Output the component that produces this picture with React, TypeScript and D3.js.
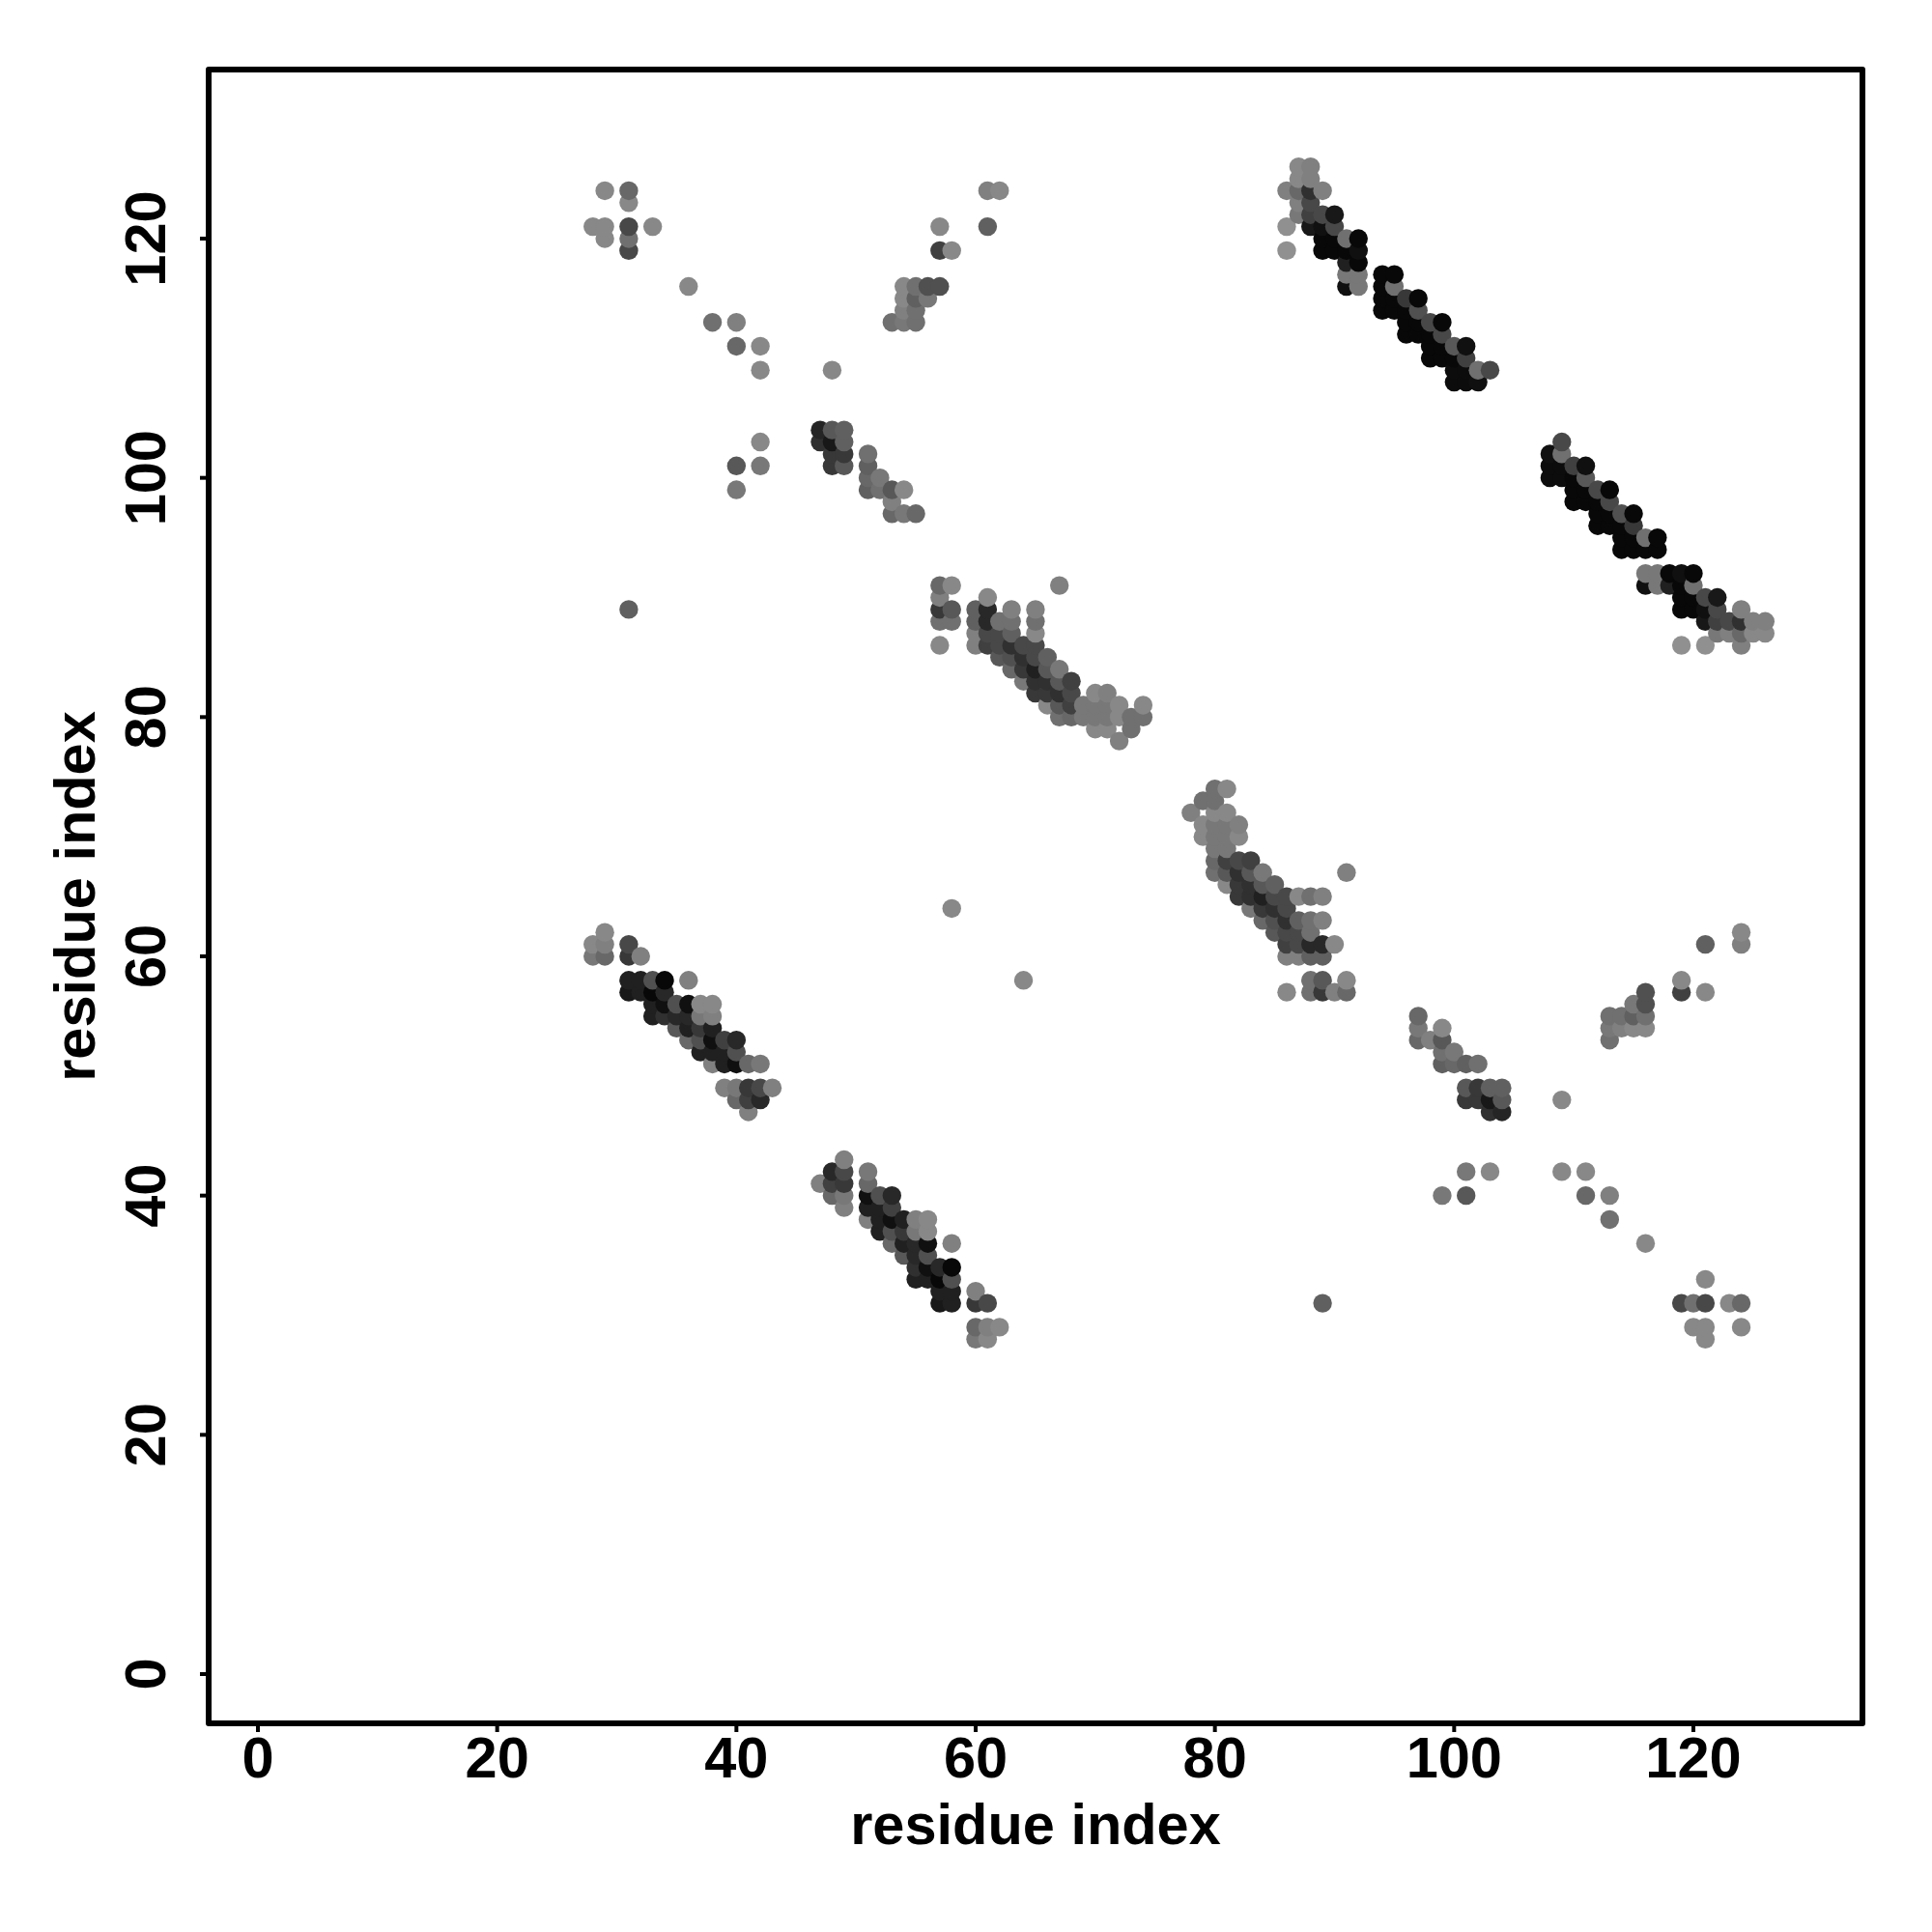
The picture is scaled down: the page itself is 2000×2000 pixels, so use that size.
import React from "react";
import * as d3 from "d3";

const xTicks = [0, 20, 40, 60, 80, 100, 120];
const yTicks = [0, 20, 40, 60, 80, 100, 120];
const xLabel = "residue index";
const yLabel = "residue index";

type C = [number, number, number];
// Upper triangle of the symmetric contact map: [residue i, residue j, grey level]
const farCorner: C[] = [
  [29,124,0x88],[31,124,0x68],[31,123,0x88],[28,121,0x88],[29,121,0x88],[31,121,0x48],[33,121,0x88],[29,120,0x88],[31,120,0x70],[31,119,0x48],
  [31,89,0x60],[58,64,0x88],
];
const crossArm: C[] = [
  [36,116,0x88],[38,113,0x70],[40,113,0x80],[40,111,0x68],[42,111,0x88],[42,109,0x88],[48,109,0x88],
  [42,103,0x88],[40,101,0x58],[42,101,0x78],[40,99,0x78],
  [53,113,0x70],[54,113,0x78],[55,113,0x70],[54,114,0x80],[55,114,0x70],[54,115,0x88],[55,115,0x60],[56,115,0x78],
  [54,116,0x88],[55,116,0x70],[56,116,0x50],[57,116,0x50],[57,119,0x40],[58,119,0x88],[57,121,0x88],[61,121,0x60],[61,124,0x80],[62,124,0x88],
];
const strand47: C[] = [
  [47,104,0x25],[47,103,0x30],[48,104,0x58],[48,103,0x18],[48,102,0x38],[48,101,0x38],[49,104,0x60],[49,103,0x60],[49,102,0x38],[49,101,0x58],
  [51,102,0x70],[51,101,0x60],[51,100,0x68],[51,99,0x60],[52,100,0x78],[52,99,0x70],[53,99,0x58],[54,99,0x88],[53,98,0x80],[53,97,0x68],[54,97,0x78],[55,97,0x68],
];
const strand57: C[] = [
  [57,91,0x68],[58,91,0x88],[57,90,0x80],[57,89,0x38],[58,89,0x58],[57,88,0x70],[58,88,0x70],[57,86,0x88],
  [60,89,0x60],[60,88,0x60],[60,87,0x80],[60,86,0x80],
  [61,90,0x88],[61,89,0x28],[61,88,0x28],[61,87,0x48],[61,86,0x40],
  [62,88,0x70],[62,87,0x48],[62,86,0x48],[62,85,0x58],
  [63,89,0x80],[63,88,0x70],[63,87,0x60],[63,86,0x30],[63,85,0x50],[63,84,0x68],
  [64,86,0x48],[64,85,0x30],[64,84,0x38],[64,83,0x78],
  [65,89,0x80],[65,88,0x70],[65,87,0x88],[65,86,0x48],[65,85,0x48],[65,84,0x20],[65,83,0x30],[65,82,0x38],
  [66,85,0x60],[66,84,0x58],[66,83,0x30],[66,82,0x38],[66,81,0x88],
  [67,91,0x80],[67,84,0x78],[67,83,0x58],[67,82,0x30],[67,81,0x58],[67,80,0x70],
  [68,83,0x40],[68,82,0x48],[68,81,0x40],[68,80,0x68],
  [69,81,0x78],[69,80,0x78],
  [70,82,0x88],[70,81,0x78],[70,80,0x78],[70,79,0x88],
  [71,82,0x80],[71,81,0x78],[71,80,0x78],[71,79,0x88],
  [72,81,0x88],[72,80,0x88],[72,78,0x80],
  [73,80,0x70],[73,79,0x70],[74,81,0x88],[74,80,0x70],
];
const strand86: C[] = [
  [86,124,0x80],[86,121,0x90],[86,119,0x90],
  [87,126,0x88],[87,125,0x88],[87,124,0x68],[87,123,0x80],[87,122,0x78],
  [88,126,0x80],[88,125,0x80],[88,124,0x30],[88,123,0x48],[88,122,0x40],[88,121,0x18],
  [89,124,0x80],[89,122,0x48],[89,121,0x10],[89,120,0x08],[89,119,0x08],
  [90,122,0x18],[90,121,0x48],[90,120,0x08],[90,119,0x08],
  [91,120,0x70],[91,119,0x08],[91,118,0x20],[91,117,0x78],[91,116,0x10],
  [92,120,0x08],[92,119,0x10],[92,118,0x08],[92,117,0x78],[92,116,0x78],
];
const strand94: C[] = [
  [94,117,0x08],[94,116,0x08],[94,115,0x08],[94,114,0x08],
  [95,117,0x08],[95,116,0x70],[95,115,0x08],[95,114,0x08],
  [96,115,0x38],[96,114,0x08],[96,113,0x08],[96,112,0x08],
  [97,115,0x08],[97,114,0x50],[97,113,0x08],[97,112,0x08],
  [98,113,0x48],[98,112,0x08],[98,111,0x08],[98,110,0x08],
  [99,113,0x08],[99,112,0x48],[99,111,0x08],[99,110,0x08],
  [100,111,0x58],[100,110,0x08],[100,109,0x0c],[100,108,0x0c],
  [101,111,0x10],[101,110,0x40],[101,109,0x0c],[101,108,0x0c],
  [102,109,0x70],[102,108,0x10],[103,109,0x48],
];
const strand28: C[] = [
  [29,62,0x88],[28,61,0x88],[29,61,0x80],[28,60,0x78],[29,60,0x68],[31,61,0x48],[31,60,0x38],[32,60,0x80],
  [31,58,0x20],[31,57,0x18],[32,58,0x20],[32,57,0x20],[33,58,0x50],[33,57,0x08],[33,56,0x20],[33,55,0x20],
  [34,58,0x08],[34,57,0x28],[34,56,0x10],[34,55,0x30],
  [35,56,0x50],[35,55,0x28],[35,54,0x58],
  [36,58,0x80],[36,56,0x10],[36,55,0x28],[36,54,0x20],[36,53,0x68],
  [37,56,0x88],[37,55,0x78],[37,54,0x38],[37,53,0x50],[37,52,0x20],
  [38,56,0x88],[38,55,0x80],[38,54,0x20],[38,53,0x10],[38,52,0x20],[38,51,0x80],
  [39,53,0x40],[39,52,0x20],[39,51,0x20],
  [40,53,0x28],[40,52,0x50],[40,51,0x10],
  [41,51,0x68],[42,51,0x78],
  [39,49,0x80],[40,49,0x78],[41,49,0x38],[42,49,0x48],[43,49,0x80],
  [40,48,0x68],[41,48,0x40],[42,48,0x28],[41,47,0x80],
];

const upper: C[] = [...farCorner, ...crossArm, ...strand47, ...strand57, ...strand86, ...strand94, ...strand28];
// The map is symmetric; points are painted column by column, bottom to top.
const contacts: C[] = [...upper, ...upper.map(([i, j, g]) => [j, i, g] as C)].sort(
  (a, b) => a[0] - b[0] || a[1] - b[1]
);

const W = 2000, H = 2000;
const box = { left: 216, right: 1928, top: 72, bottom: 1784 };
const FS = 59.5;
const LABEL_FS = 59.5;
const TICK = 9;
const font = "'Liberation Sans', Arial, sans-serif";

export default function App() {
  const x = d3.scaleLinear().domain([0, 120]).range([267, 1753]);
  const y = d3.scaleLinear().domain([0, 120]).range([1733, 247]);
  return (
    <svg width={W} height={H} viewBox={`0 0 ${W} ${H}`} style={{ position: "absolute", left: 0, top: 0, background: "#fff" }}>
      <g>
        {contacts.map(([i, j, g], k) => (
          <circle key={k} cx={x(i)} cy={y(j)} r={9.7} fill={d3.rgb(g, g, g).formatHex()} />
        ))}
      </g>
      <rect x={box.left} y={box.top} width={box.right - box.left} height={box.bottom - box.top} fill="none" stroke="#000" strokeWidth={6} strokeLinejoin="round" />
      {xTicks.map((t) => (
        <g key={t}>
          <line x1={x(t)} x2={x(t)} y1={box.bottom} y2={box.bottom + TICK} stroke="#000" strokeWidth={4} />
          <text x={x(t)} y={1839.5} textAnchor="middle" fontFamily={font} fontWeight="bold" fontSize={FS}>{t}</text>
        </g>
      ))}
      {yTicks.map((t) => (
        <g key={t}>
          <line x1={box.left} x2={box.left - TICK} y1={y(t)} y2={y(t)} stroke="#000" strokeWidth={4} />
          <text transform={`translate(171,${y(t)}) rotate(-90)`} textAnchor="middle" fontFamily={font} fontWeight="bold" fontSize={FS}>{t}</text>
        </g>
      ))}
      <text x={(box.left + box.right) / 2} y={1909} textAnchor="middle" fontFamily={font} fontWeight="bold" fontSize={LABEL_FS}>{xLabel}</text>
      <text transform={`translate(98,${(box.top + box.bottom) / 2}) rotate(-90)`} textAnchor="middle" fontFamily={font} fontWeight="bold" fontSize={LABEL_FS}>{yLabel}</text>
    </svg>
  );
}
